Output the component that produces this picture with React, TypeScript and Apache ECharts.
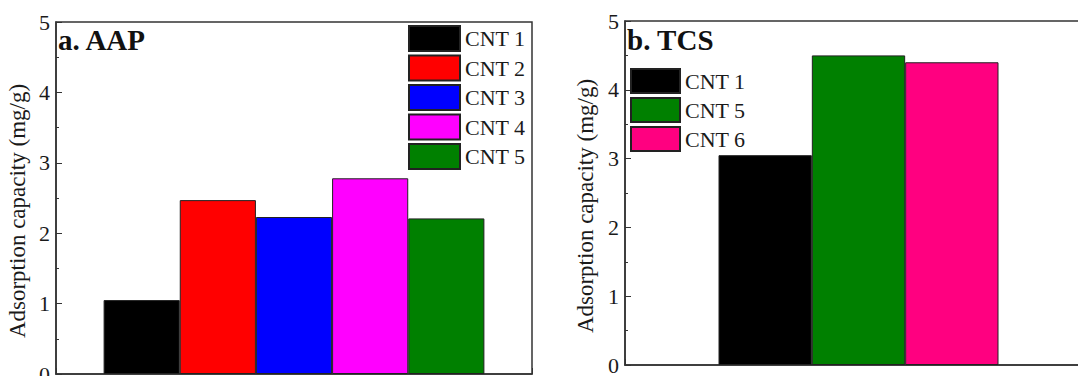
import React, { useEffect, useRef } from "react";
import * as echarts from "echarts";

const aapNames = ["CNT 1", "CNT 2", "CNT 3", "CNT 4", "CNT 5"];
const aapValues = [1.05, 2.47, 2.23, 2.78, 2.21];
const aapColors = ["#000000", "#ff0000", "#0000ff", "#ff00ff", "#008000"];

const tcsNames = ["CNT 1", "CNT 5", "CNT 6"];
const tcsValues = [3.05, 4.5, 4.4];
const tcsColors = ["#000000", "#008000", "#ff0080"];

const yTicks = [0, 1, 2, 3, 4, 5];

const FONT = "Liberation Serif";
const AX = "#333333";

function makeSeries(names: string[], values: number[], colors: string[], xIdx: number, yIdx: number, stack: string) {
  return names.map((n, i) => ({
    name: n,
    type: "bar",
    stack,
    xAxisIndex: xIdx,
    yAxisIndex: yIdx,
    barWidth: "100%",
    itemStyle: { color: colors[i], borderColor: "#222", borderWidth: 1 },
    data: names.map((_, j) => (j === i ? values[i] : "-")),
  }));
}

export default function App() {
  const ref = useRef<HTMLDivElement>(null);
  useEffect(() => {
    if (!ref.current) return;
    const chart = echarts.init(ref.current, undefined, { renderer: "svg" });
    const frameY = (gridIndex: number, nameGap: number) => ({
      type: "value",
      gridIndex,
      min: yTicks[0],
      max: yTicks[yTicks.length - 1],
      interval: 1,
      name: "Adsorption capacity (mg/g)",
      nameLocation: "middle",
      nameGap,
      nameTextStyle: { fontFamily: FONT, fontSize: 23, color: "#1a1a1a", padding: [0, 26, 0, 0] },
      axisLine: { show: true, onZero: false, lineStyle: { color: AX, width: 1.5 } },
      axisTick: { show: true, inside: true, length: 6, lineStyle: { color: AX } },
      minorTick: { show: true, splitNumber: 2, length: 3, lineStyle: { color: AX } },
      splitLine: { show: false },
      axisLabel: { fontFamily: FONT, fontSize: 22, color: "#1a1a1a", margin: 6 },
    });
    const hiddenY = (gridIndex: number) => ({
      type: "value",
      gridIndex,
      min: 0,
      max: 5,
      show: false,
      splitLine: { show: false },
    });
    const tickX = (gridIndex: number, min: number, max: number) => ({
      type: "value",
      gridIndex,
      min,
      max,
      interval: 1,
      axisLine: { show: true, onZero: false, lineStyle: { color: AX, width: 1.5 } },
      axisTick: { show: true, inside: true, length: 6, lineStyle: { color: AX } },
      axisLabel: { show: false },
      splitLine: { show: false },
    });
    const catX = (gridIndex: number, data: string[]) => ({
      type: "category",
      gridIndex,
      data,
      show: false,
      boundaryGap: true,
    });
    const legend = (data: string[], left: number, top: number, w: number, h: number, gap: number) => ({
      data,
      orient: "vertical",
      left,
      top,
      itemWidth: w,
      itemHeight: h,
      itemGap: gap,
      icon: "rect",
      padding: 0,
      selectedMode: false,
      textStyle: { fontFamily: FONT, fontSize: 22, color: "#1a1a1a" },
    });
    const g = (left: number, top: number, width: number, height: number, frame: boolean) => ({
      left,
      top,
      width,
      height,
      show: frame,
      borderColor: AX,
      borderWidth: frame ? 1.5 : 0,
      containLabel: false,
      outerBoundsMode: "none",
    });
    chart.setOption({
      animation: false,
      backgroundColor: "#ffffff",
      grid: [
        g(56, 22, 476, 352, true),
        g(103.6, 22, 380.8, 352, false),
        g(625, 21, 467, 344, true),
        g(718.5, 21, 280, 344, false),
      ],
      xAxis: [tickX(0, -0.5, 4.5), catX(1, aapNames), tickX(2, -1, 1), catX(3, tcsNames)],
      yAxis: [frameY(0, 27), hiddenY(1), frameY(2, 28), hiddenY(3)],
      legend: [
        legend(aapNames, 408, 25, 51, 25, 2.5),
        legend(tcsNames, 630, 68, 49, 24, 3),
      ],
      graphic: [
        { type: "text", left: 58, top: 25, style: { text: "a. AAP", font: `bold 29px ${FONT}`, fill: "#111" } },
        { type: "text", left: 627, top: 25, style: { text: "b. TCS", font: `bold 29px ${FONT}`, fill: "#111" } },
      ],
      series: [
        ...makeSeries(aapNames, aapValues, aapColors, 1, 1, "a"),
        ...makeSeries(tcsNames, tcsValues, tcsColors, 3, 3, "b"),
      ],
    });
    return () => chart.dispose();
  }, []);
  return <div ref={ref} style={{ position: "fixed", left: 0, top: 0, width: 1078, height: 376 }} />;
}
